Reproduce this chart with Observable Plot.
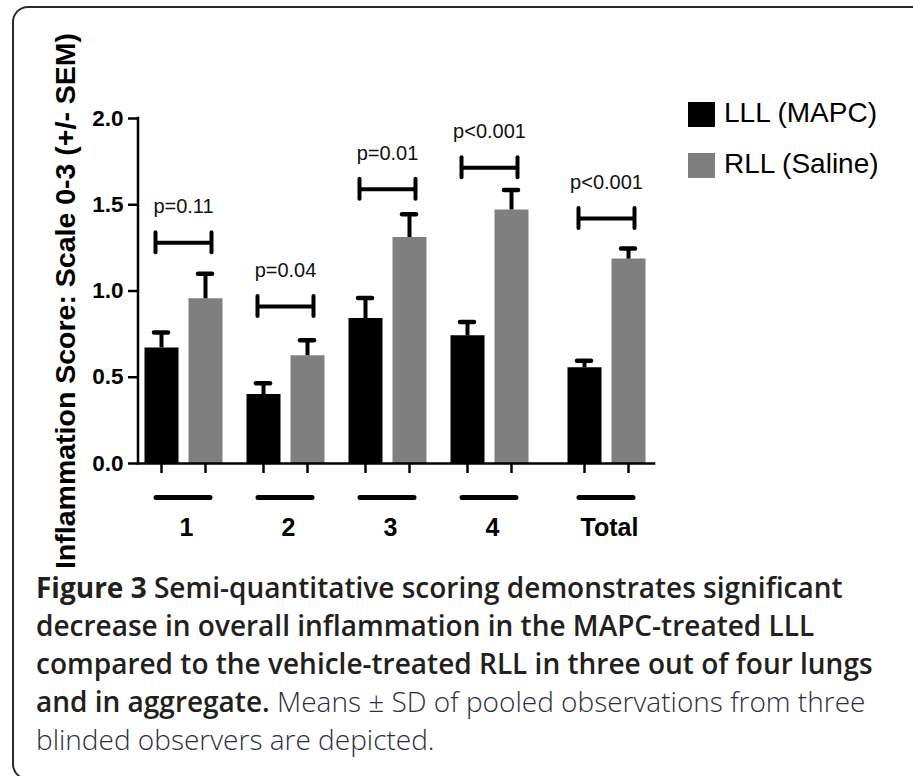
<!DOCTYPE html>
<html>
<head>
<meta charset="utf-8">
<script src="https://cdn.jsdelivr.net/npm/d3@7"></script>
<script src="https://cdn.jsdelivr.net/npm/@observablehq/plot@0.6"></script>
<style>
  html, body { margin: 0; padding: 0; background: #fff; }
  #page { position: relative; width: 913px; height: 776px; overflow: hidden; background: #fff; }
  #frame { position: absolute; left: 12px; top: 6px; width: 920px; height: 774px; border: 2.5px solid #2a2a2a; border-radius: 16px; box-sizing: border-box; }
  #chart { position: absolute; left: 0; top: 0; }
  .leg { position: absolute; left: 688px; font-family: "Liberation Sans", Arial, sans-serif; font-size: 28px; color: #000; white-space: nowrap; }
  .leg .sw { position: absolute; left: 0; width: 27px; height: 25px; }
  .leg .lab { position: absolute; left: 36px; top: -5px; }
  #cap { position: absolute; left: 36px; top: 568px; font-family: "Open Sans", Lato, sans-serif; font-size: 28px; line-height: 38px; color: #231f20; white-space: nowrap; }
  #cap .b { font-weight: 700; }
  #cap .sb { font-weight: 600; }
  #cap .lt { font-weight: 300; color: #2e2e3e; }
</style>
</head>
<body>
<div id="page">
  <div id="frame"></div>
  <div id="chart"></div>
  <div id="legend"></div>
  <div id="cap"></div>
</div>
<script>
// ---- data ----
const groups = ["1", "2", "3", "4", "Total"];
const lllMean = [0.67, 0.40, 0.84, 0.74, 0.555];
const lllErr  = [0.09, 0.065, 0.12, 0.08, 0.04];
const rllMean = [0.955, 0.625, 1.31, 1.47, 1.185];
const rllErr  = [0.145, 0.09, 0.135, 0.115, 0.062];
const pLabels = ["p=0.11", "p=0.04", "p=0.01", "p<0.001", "p<0.001"];
const bracketY = [1.28, 0.91, 1.59, 1.715, 1.42];
const yTicks = [0, 0.5, 1.0, 1.5, 2.0];
const seriesNames = ["LLL (MAPC)", "RLL (Saline)"];
const seriesColors = ["#000000", "#7f7f7f"];
const yTitle = "Inflammation Score: Scale 0-3 (+/- SEM)";

const rows = groups.map((g, i) => ({
  i, group: g,
  lll: lllMean[i], lllTop: lllMean[i] + lllErr[i],
  rll: rllMean[i], rllTop: rllMean[i] + rllErr[i],
  p: pLabels[i], bracket: bracketY[i]
}));

const OFF = 22; // half distance between paired bars (px)

const plot = Plot.plot({
  width: 913,
  height: 560,
  marginLeft: 138,
  marginRight: 259,
  marginTop: 118,
  marginBottom: 97,
  x: {type: "linear", domain: [0, 3, 4], range: [183, 489, 606], axis: null},
  y: {domain: [0, 2], axis: null},
  style: {fontFamily: "'Liberation Sans', Arial, sans-serif", background: "transparent", color: "#000", overflow: "visible"},
  marks: [
    // bars
    Plot.ruleX(rows, {x: "i", y1: 0, y2: "lll", dx: -OFF, stroke: seriesColors[0], strokeWidth: 34}),
    Plot.ruleX(rows, {x: "i", y1: 0, y2: "rll", dx: OFF, stroke: seriesColors[1], strokeWidth: 34}),
    // error stems
    Plot.ruleX(rows, {x: "i", y1: "lll", y2: "lllTop", dx: -OFF, stroke: "#000", strokeWidth: 4}),
    Plot.ruleX(rows, {x: "i", y1: "rll", y2: "rllTop", dx: OFF, stroke: "#000", strokeWidth: 4}),
    // error caps
    Plot.ruleY(rows, {x1: "i", x2: "i", y: "lllTop", dx: -OFF, insetLeft: -7, insetRight: -7, stroke: "#000", strokeWidth: 4.5, strokeLinecap: "round"}),
    Plot.ruleY(rows, {x1: "i", x2: "i", y: "rllTop", dx: OFF, insetLeft: -7, insetRight: -7, stroke: "#000", strokeWidth: 4.5, strokeLinecap: "round"}),
    // x axis baseline
    Plot.ruleY([0], {stroke: "#000", strokeWidth: 2.5, strokeLinecap: "square"}),
    // y axis line
    (index, {y}, values, {marginLeft}) => {
      const line = d3.create("svg:line")
        .attr("x1", marginLeft).attr("x2", marginLeft)
        .attr("y1", y(0)).attr("y2", y(2))
        .attr("stroke", "#000").attr("stroke-width", 2.5).attr("stroke-linecap", "square");
      return line.node();
    },
    // x tick marks under each bar
    Plot.ruleX(rows, {x: "i", y1: 0, y2: 0, dx: -OFF, insetTop: 10, stroke: "#000", strokeWidth: 2.5}),
    Plot.ruleX(rows, {x: "i", y1: 0, y2: 0, dx: OFF, insetTop: 10, stroke: "#000", strokeWidth: 2.5}),
    // group underline bars
    Plot.ruleY(rows, {x1: "i", x2: "i", y: 0, dy: 34, insetLeft: -27, insetRight: -27, stroke: "#000", strokeWidth: 5, strokeLinecap: "round"}),
    // group labels
    Plot.text(rows, {x: "i", y: 0, text: "group", dy: 64, dx: 3, fontSize: 25, fontWeight: "bold", fill: "#000"}),
    // y axis ticks + labels
    Plot.axisY({ticks: yTicks, tickFormat: d3.format(".1f"), tickSize: 10, tickPadding: 5, fontSize: 22.5, fontWeight: "bold", strokeWidth: 2.5, label: null, fill: "#000", stroke: "#000"}),
    // y axis title
    Plot.text([yTitle], {frameAnchor: "left", textAnchor: "middle", rotate: -90, dx: -73, dy: 10, fontSize: 28.5, fontWeight: "bold", fill: "#000"}),
    // significance brackets
    Plot.ruleY(rows, {x1: "i", x2: "i", y: "bracket", insetLeft: -28, insetRight: -28, stroke: "#000", strokeWidth: 4}),
    Plot.ruleX(rows, {x: "i", y1: "bracket", y2: "bracket", dx: -28, insetTop: -10, insetBottom: -10, stroke: "#000", strokeWidth: 4, strokeLinecap: "round"}),
    Plot.ruleX(rows, {x: "i", y1: "bracket", y2: "bracket", dx: 28, insetTop: -10, insetBottom: -10, stroke: "#000", strokeWidth: 4, strokeLinecap: "round"}),
    Plot.text(rows, {x: "i", y: "bracket", text: "p", dy: -36, fontSize: 20, fill: "#111"})
  ]
});
document.getElementById("chart").appendChild(plot);

// legend
const legend = document.getElementById("legend");
const legTops = [102, 153];
seriesNames.forEach((name, k) => {
  const item = document.createElement("div");
  item.className = "leg";
  item.style.top = legTops[k] + "px";
  item.innerHTML = `<div class="sw" style="background:${seriesColors[k]}"></div><div class="lab">${name}</div>`;
  legend.appendChild(item);
});

// caption
document.getElementById("cap").innerHTML =
  '<span class="b">Figure 3</span> <span class="sb">Semi-quantitative scoring demonstrates significant<br>' +
  'decrease in overall inflammation in the MAPC-treated LLL<br>' +
  'compared to the vehicle-treated RLL in three out of four lungs<br>' +
  'and in aggregate.</span> <span class="lt">Means ± SD of pooled observations from three<br>' +
  'blinded observers are depicted.</span>';
</script>
</body>
</html>
